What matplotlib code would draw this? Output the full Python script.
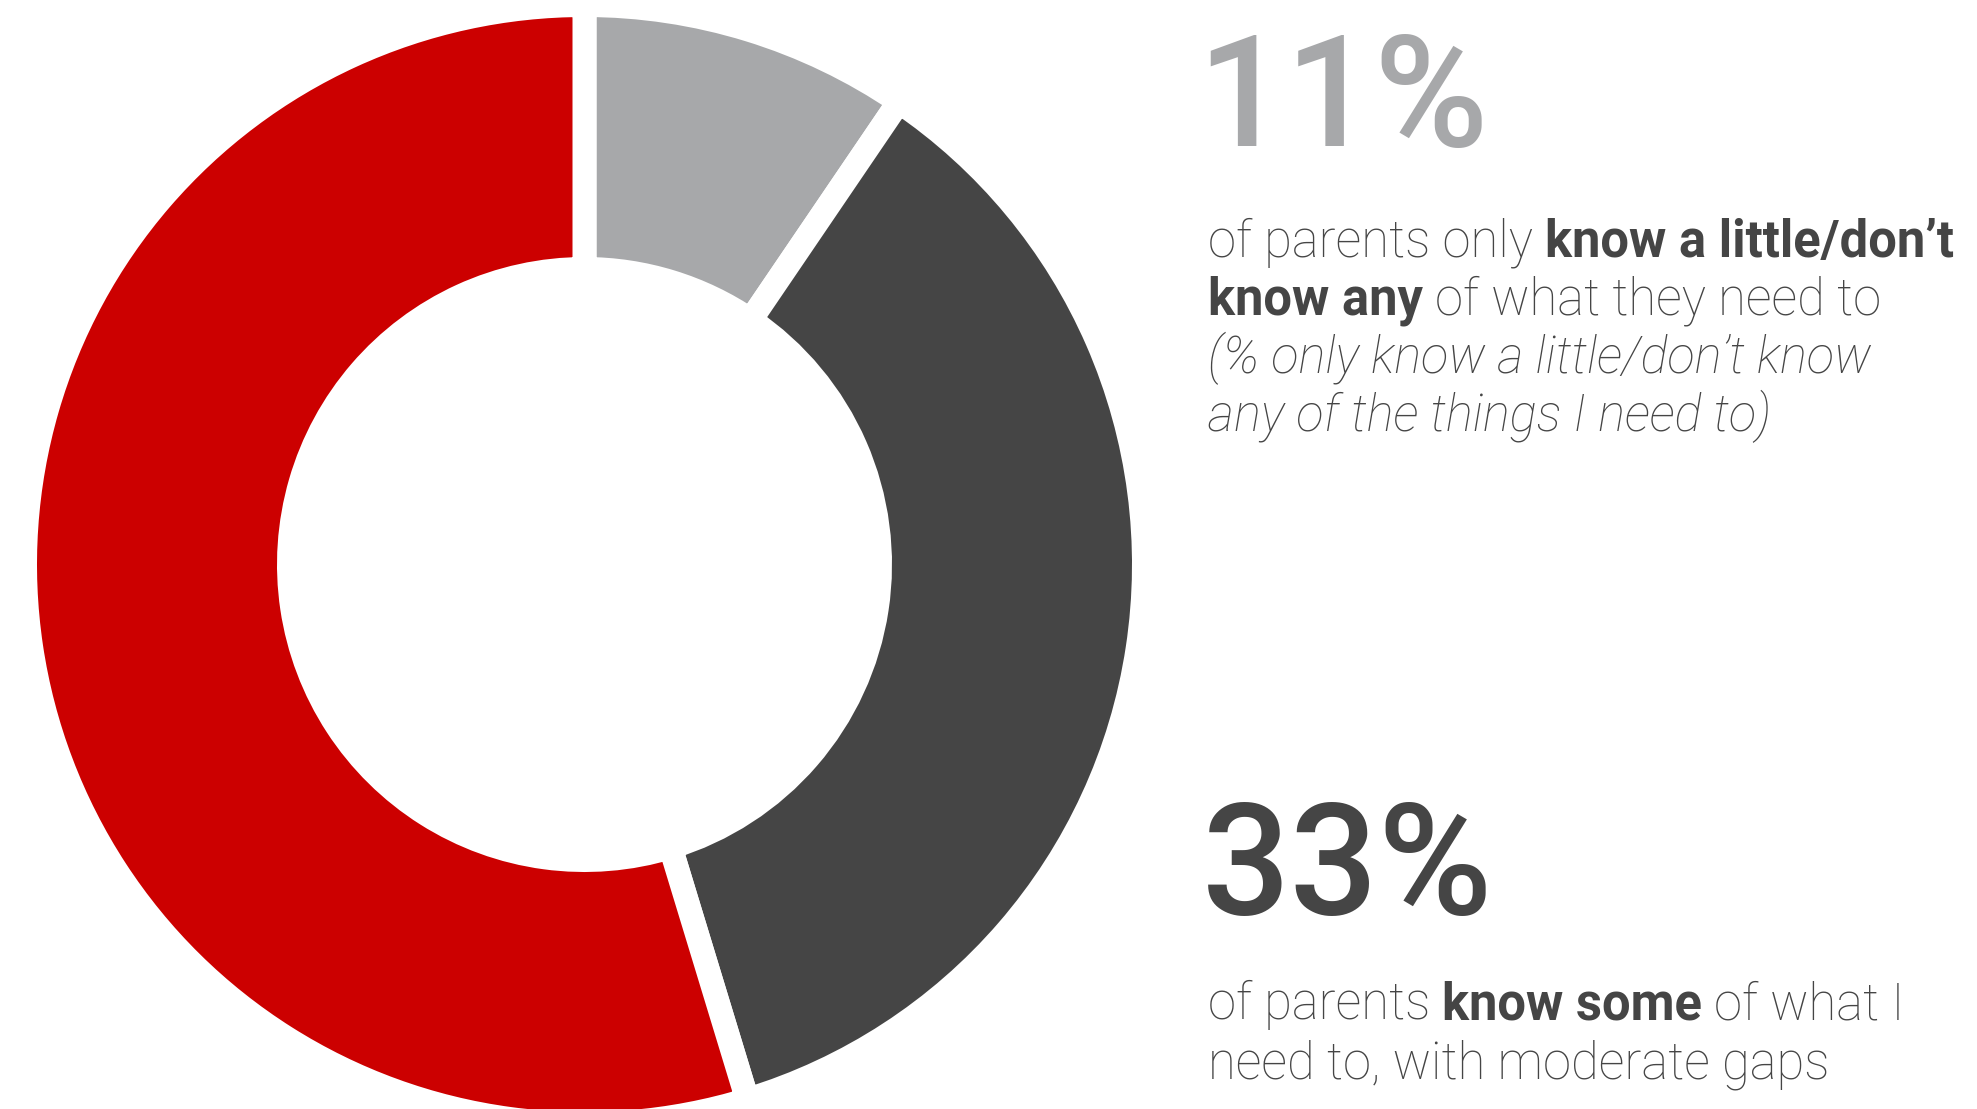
import matplotlib
matplotlib.use("Agg")
import matplotlib.pyplot as plt
from matplotlib.font_manager import FontProperties
from matplotlib.textpath import TextPath

# donut shares (clockwise from 12 o'clock)
segments = ["only know a little / don't know any", "know some", "know most / all"]
shares = [9.5, 35.8, 54.7]
seg_colors = ["#A7A8AA", "#454545", "#CC0000"]

# callout texts
big_numbers = ["11%", "33%"]
big_colors = ["#A7A8AA", "#454545"]
upper_lines = [
    [("of parents only", "light", "normal"), ("know a little/don’t", "bold", "normal")],
    [("know any", "bold", "normal"), ("of what they need to", "light", "normal")],
    [("(% only know a little/don’t know", "light", "italic")],
    [("any of the things I need to)", "light", "italic")],
]
lower_lines = [
    [("of parents", "light", "normal"), ("know some", "bold", "normal"), ("of what I", "light", "normal")],
    [("need to, with moderate gaps", "light", "normal")],
]

W, H = 1977, 1109
TEXT_COLOR = "#454545"
FONT = "Roboto"

fig = plt.figure(figsize=(W / 100, H / 100), dpi=100)
ax = fig.add_axes([0, 0, 1, 1])

# white edge makes the gaps between the wedges (~24 px)
gap_px = 24
lw = gap_px * 72 / 100
r_out = 547.5 + gap_px / 2
r_in = 307.5 - gap_px / 2
ax.pie(shares, colors=seg_colors, startangle=90, counterclock=False,
       center=(584.5, H - 564.5), radius=r_out, frame=True,
       wedgeprops=dict(width=r_out - r_in, edgecolor="white", linewidth=lw))
ax.set_xlim(0, W)
ax.set_ylim(0, H)
ax.set_aspect("equal")
ax.axis("off")

fig.canvas.draw()
renderer = fig.canvas.get_renderer()


def text_width(s, weight, style, size):
    t = ax.text(0, 0, s, fontsize=size, family=FONT, weight=weight, style=style)
    w = t.get_window_extent(renderer).width
    t.remove()
    return w


def line_width(runs, size):
    space = text_width("a a", "light", "normal", size) - text_width("aa", "light", "normal", size)
    return sum(text_width(s, w, st, size) for s, w, st in runs) + space * (len(runs) - 1)


def draw_line(x, y_img, runs, size):
    space = text_width("a a", "light", "normal", size) - text_width("aa", "light", "normal", size)
    for s, weight, style in runs:
        t = ax.text(x, H - y_img, s, fontsize=size, family=FONT, weight=weight,
                    style=style, color=TEXT_COLOR, va="baseline", ha="left")
        x += t.get_window_extent(renderer).width + space


def ink_left(ch, size, weight):
    # left side bearing of a glyph, in pixels
    tp = TextPath((0, 0), ch, size=size, prop=FontProperties(family=FONT, weight=weight))
    return tp.get_extents().x0 * 100 / 72


x0 = 1208
# size the body text so the first line spans like the reference (~746 px)
body_size = 30 * 746 / line_width(upper_lines[0], 30)
big_size = 112

ax.text(1210 - ink_left("1", big_size, "medium"), H - 146, big_numbers[0], fontsize=big_size,
        family=FONT, weight="medium", color=big_colors[0], va="baseline", ha="left")
for i, runs in enumerate(upper_lines):
    draw_line(x0, 257 + i * 58, runs, body_size)

ax.text(x0 - ink_left("3", big_size, "medium"), H - 914, big_numbers[1], fontsize=big_size,
        family=FONT, weight="medium", color=big_colors[1], va="baseline", ha="left")
for i, runs in enumerate(lower_lines):
    draw_line(x0, 1019 + i * 59, runs, body_size)

fig.savefig("out.png", dpi=100, facecolor="white")
